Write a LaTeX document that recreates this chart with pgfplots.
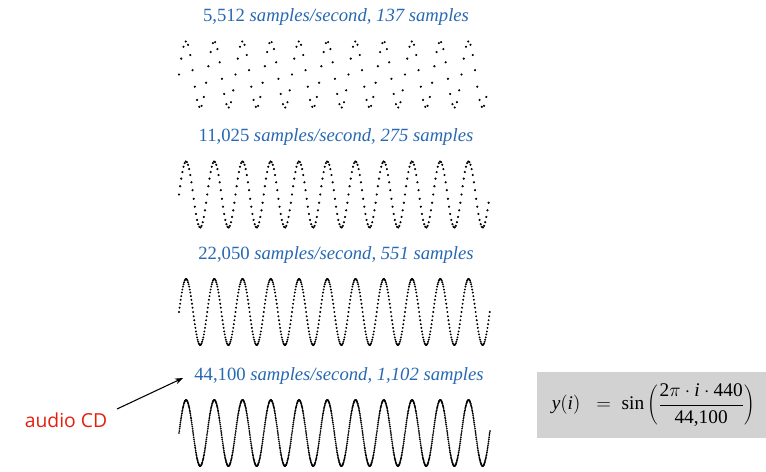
\documentclass[border=0pt]{standalone}
\usepackage{pgfplots}
\pgfplotsset{compat=1.18}
\usepackage{pgfplotstable}
\usetikzlibrary{arrows.meta}
\usepackage{fontspec}
\setmainfont{Liberation Serif}
\newfontfamily\cdfont{Open Sans}
\definecolor{titleblue}{RGB}{38,104,178}
\definecolor{cdred}{RGB}{226,32,16}
\definecolor{boxgray}{RGB}{210,210,210}
\pgfplotstableread[row sep=\\]{
y\\
0\\0.06\\0.13\\0.19\\0.25\\0.31\\0.37\\0.43\\0.48\\0.54\\
0.59\\0.64\\0.68\\0.73\\0.77\\0.81\\0.84\\0.88\\0.90\\0.93\\
0.95\\0.97\\0.98\\0.99\\1\\1\\1\\0.99\\0.98\\0.97\\
0.95\\0.93\\0.90\\0.88\\0.84\\0.81\\0.77\\0.73\\0.68\\0.64\\
0.59\\0.54\\0.48\\0.43\\0.37\\0.31\\0.25\\0.19\\0.13\\0.06\\
0\\-0.06\\-0.13\\-0.19\\-0.25\\-0.31\\-0.37\\-0.43\\-0.48\\-0.54\\
-0.59\\-0.64\\-0.68\\-0.73\\-0.77\\-0.81\\-0.84\\-0.88\\-0.90\\-0.93\\
-0.95\\-0.97\\-0.98\\-0.99\\-1\\-1\\-1\\-0.99\\-0.98\\-0.97\\
-0.95\\-0.93\\-0.90\\-0.88\\-0.84\\-0.81\\-0.77\\-0.73\\-0.68\\-0.64\\
-0.59\\-0.54\\-0.48\\-0.43\\-0.37\\-0.31\\-0.25\\-0.19\\-0.13\\-0.06\\
0\\0.06\\0.13\\0.19\\0.25\\0.31\\0.37\\0.43\\0.48\\0.54\\
0.59\\0.64\\0.68\\0.73\\0.77\\0.81\\0.84\\0.88\\0.90\\0.93\\
0.95\\0.97\\0.98\\0.99\\1\\1\\1\\0.99\\0.98\\0.97\\
0.95\\0.93\\0.90\\0.88\\0.84\\0.81\\0.77\\0.73\\0.68\\0.64\\
0.59\\0.54\\0.48\\0.43\\0.37\\0.31\\0.25\\0.19\\0.13\\0.06\\
0\\-0.06\\-0.13\\-0.19\\-0.25\\-0.31\\-0.37\\-0.43\\-0.48\\-0.54\\
-0.59\\-0.64\\-0.68\\-0.73\\-0.77\\-0.81\\-0.84\\-0.88\\-0.90\\-0.93\\
-0.95\\-0.97\\-0.98\\-0.99\\-1\\-1\\-1\\-0.99\\-0.98\\-0.97\\
-0.95\\-0.93\\-0.90\\-0.88\\-0.84\\-0.81\\-0.77\\-0.73\\-0.68\\-0.64\\
-0.59\\-0.54\\-0.48\\-0.43\\-0.37\\-0.31\\-0.25\\-0.19\\-0.13\\-0.06\\
0\\0.06\\0.13\\0.19\\0.25\\0.31\\0.37\\0.43\\0.48\\0.54\\
0.59\\0.64\\0.68\\0.73\\0.77\\0.81\\0.84\\0.88\\0.90\\0.93\\
0.95\\0.97\\0.98\\0.99\\1\\1\\1\\0.99\\0.98\\0.97\\
0.95\\0.93\\0.90\\0.88\\0.84\\0.81\\0.77\\0.73\\0.68\\0.64\\
0.59\\0.54\\0.48\\0.43\\0.37\\0.31\\0.25\\0.19\\0.13\\0.06\\
0\\-0.06\\-0.13\\-0.19\\-0.25\\-0.31\\-0.37\\-0.43\\-0.48\\-0.54\\
-0.59\\-0.64\\-0.68\\-0.73\\-0.77\\-0.81\\-0.84\\-0.88\\-0.90\\-0.93\\
-0.95\\-0.97\\-0.98\\-0.99\\-1\\-1\\-1\\-0.99\\-0.98\\-0.97\\
-0.95\\-0.93\\-0.90\\-0.88\\-0.84\\-0.81\\-0.77\\-0.73\\-0.68\\-0.64\\
-0.59\\-0.54\\-0.48\\-0.43\\-0.37\\-0.31\\-0.25\\-0.19\\-0.13\\-0.06\\
0\\0.06\\0.13\\0.19\\0.25\\0.31\\0.37\\0.43\\0.48\\0.54\\
0.59\\0.64\\0.68\\0.73\\0.77\\0.81\\0.84\\0.88\\0.90\\0.93\\
0.95\\0.97\\0.98\\0.99\\1\\1\\1\\0.99\\0.98\\0.97\\
0.95\\0.93\\0.90\\0.88\\0.84\\0.81\\0.77\\0.73\\0.68\\0.64\\
0.59\\0.54\\0.48\\0.43\\0.37\\0.31\\0.25\\0.19\\0.13\\0.06\\
0\\-0.06\\-0.13\\-0.19\\-0.25\\-0.31\\-0.37\\-0.43\\-0.48\\-0.54\\
-0.59\\-0.64\\-0.68\\-0.73\\-0.77\\-0.81\\-0.84\\-0.88\\-0.90\\-0.93\\
-0.95\\-0.97\\-0.98\\-0.99\\-1\\-1\\-1\\-0.99\\-0.98\\-0.97\\
-0.95\\-0.93\\-0.90\\-0.88\\-0.84\\-0.81\\-0.77\\-0.73\\-0.68\\-0.64\\
-0.59\\-0.54\\-0.48\\-0.43\\-0.37\\-0.31\\-0.25\\-0.19\\-0.13\\-0.06\\
0\\0.06\\0.13\\0.19\\0.25\\0.31\\0.37\\0.43\\0.48\\0.54\\
0.59\\0.64\\0.68\\0.73\\0.77\\0.81\\0.84\\0.88\\0.90\\0.93\\
0.95\\0.97\\0.98\\0.99\\1\\1\\1\\0.99\\0.98\\0.97\\
0.95\\0.93\\0.90\\0.88\\0.84\\0.81\\0.77\\0.73\\0.68\\0.64\\
0.59\\0.54\\0.48\\0.43\\0.37\\0.31\\0.25\\0.19\\0.13\\0.06\\
0\\-0.06\\-0.13\\-0.19\\-0.25\\-0.31\\-0.37\\-0.43\\-0.48\\-0.54\\
-0.59\\-0.64\\-0.68\\-0.73\\-0.77\\-0.81\\-0.84\\-0.88\\-0.90\\-0.93\\
-0.95\\-0.97\\-0.98\\-0.99\\-1\\-1\\-1\\-0.99\\-0.98\\-0.97\\
-0.95\\-0.93\\-0.90\\-0.88\\-0.84\\-0.81\\-0.77\\-0.73\\-0.68\\-0.64\\
-0.59\\-0.54\\-0.48\\-0.43\\-0.37\\-0.31\\-0.25\\-0.19\\-0.13\\-0.06\\
0\\0.06\\0.13\\0.19\\0.25\\0.31\\0.37\\0.43\\0.48\\0.54\\
0.59\\0.64\\0.68\\0.73\\0.77\\0.81\\0.84\\0.88\\0.90\\0.93\\
0.95\\0.97\\0.98\\0.99\\1\\1\\1\\0.99\\0.98\\0.97\\
0.95\\0.93\\0.90\\0.88\\0.84\\0.81\\0.77\\0.73\\0.68\\0.64\\
0.59\\0.54\\0.48\\0.43\\0.37\\0.31\\0.25\\0.19\\0.13\\0.06\\
0\\-0.06\\-0.13\\-0.19\\-0.25\\-0.31\\-0.37\\-0.43\\-0.48\\-0.54\\
-0.59\\-0.64\\-0.68\\-0.73\\-0.77\\-0.81\\-0.84\\-0.88\\-0.90\\-0.93\\
-0.95\\-0.97\\-0.98\\-0.99\\-1\\-1\\-1\\-0.99\\-0.98\\-0.97\\
-0.95\\-0.93\\-0.90\\-0.88\\-0.84\\-0.81\\-0.77\\-0.73\\-0.68\\-0.64\\
-0.59\\-0.54\\-0.48\\-0.43\\-0.37\\-0.31\\-0.25\\-0.19\\-0.13\\-0.06\\
0\\0.06\\0.13\\0.19\\0.25\\0.31\\0.37\\0.43\\0.48\\0.54\\
0.59\\0.64\\0.68\\0.73\\0.77\\0.81\\0.84\\0.88\\0.90\\0.93\\
0.95\\0.97\\0.98\\0.99\\1\\1\\1\\0.99\\0.98\\0.97\\
0.95\\0.93\\0.90\\0.88\\0.84\\0.81\\0.77\\0.73\\0.68\\0.64\\
0.59\\0.54\\0.48\\0.43\\0.37\\0.31\\0.25\\0.19\\0.13\\0.06\\
0\\-0.06\\-0.13\\-0.19\\-0.25\\-0.31\\-0.37\\-0.43\\-0.48\\-0.54\\
-0.59\\-0.64\\-0.68\\-0.73\\-0.77\\-0.81\\-0.84\\-0.88\\-0.90\\-0.93\\
-0.95\\-0.97\\-0.98\\-0.99\\-1\\-1\\-1\\-0.99\\-0.98\\-0.97\\
-0.95\\-0.93\\-0.90\\-0.88\\-0.84\\-0.81\\-0.77\\-0.73\\-0.68\\-0.64\\
-0.59\\-0.54\\-0.48\\-0.43\\-0.37\\-0.31\\-0.25\\-0.19\\-0.13\\-0.06\\
0\\0.06\\0.13\\0.19\\0.25\\0.31\\0.37\\0.43\\0.48\\0.54\\
0.59\\0.64\\0.68\\0.73\\0.77\\0.81\\0.84\\0.88\\0.90\\0.93\\
0.95\\0.97\\0.98\\0.99\\1\\1\\1\\0.99\\0.98\\0.97\\
0.95\\0.93\\0.90\\0.88\\0.84\\0.81\\0.77\\0.73\\0.68\\0.64\\
0.59\\0.54\\0.48\\0.43\\0.37\\0.31\\0.25\\0.19\\0.13\\0.06\\
0\\-0.06\\-0.13\\-0.19\\-0.25\\-0.31\\-0.37\\-0.43\\-0.48\\-0.54\\
-0.59\\-0.64\\-0.68\\-0.73\\-0.77\\-0.81\\-0.84\\-0.88\\-0.90\\-0.93\\
-0.95\\-0.97\\-0.98\\-0.99\\-1\\-1\\-1\\-0.99\\-0.98\\-0.97\\
-0.95\\-0.93\\-0.90\\-0.88\\-0.84\\-0.81\\-0.77\\-0.73\\-0.68\\-0.64\\
-0.59\\-0.54\\-0.48\\-0.43\\-0.37\\-0.31\\-0.25\\-0.19\\-0.13\\-0.06\\
0\\0.06\\0.13\\0.19\\0.25\\0.31\\0.37\\0.43\\0.48\\0.54\\
0.59\\0.64\\0.68\\0.73\\0.77\\0.81\\0.84\\0.88\\0.90\\0.93\\
0.95\\0.97\\0.98\\0.99\\1\\1\\1\\0.99\\0.98\\0.97\\
0.95\\0.93\\0.90\\0.88\\0.84\\0.81\\0.77\\0.73\\0.68\\0.64\\
0.59\\0.54\\0.48\\0.43\\0.37\\0.31\\0.25\\0.19\\0.13\\0.06\\
0\\-0.06\\-0.13\\-0.19\\-0.25\\-0.31\\-0.37\\-0.43\\-0.48\\-0.54\\
-0.59\\-0.64\\-0.68\\-0.73\\-0.77\\-0.81\\-0.84\\-0.88\\-0.90\\-0.93\\
-0.95\\-0.97\\-0.98\\-0.99\\-1\\-1\\-1\\-0.99\\-0.98\\-0.97\\
-0.95\\-0.93\\-0.90\\-0.88\\-0.84\\-0.81\\-0.77\\-0.73\\-0.68\\-0.64\\
-0.59\\-0.54\\-0.48\\-0.43\\-0.37\\-0.31\\-0.25\\-0.19\\-0.13\\-0.06\\
0\\0.06\\0.13\\0.19\\0.25\\0.31\\0.37\\0.43\\0.48\\0.54\\
0.59\\0.64\\0.68\\0.73\\0.77\\0.81\\0.84\\0.88\\0.90\\0.93\\
0.95\\0.97\\0.98\\0.99\\1\\1\\1\\0.99\\0.98\\0.97\\
0.95\\0.93\\0.90\\0.88\\0.84\\0.81\\0.77\\0.73\\0.68\\0.64\\
0.59\\0.54\\0.48\\0.43\\0.37\\0.31\\0.25\\0.19\\0.13\\0.06\\
0\\-0.06\\-0.13\\-0.19\\-0.25\\-0.31\\-0.37\\-0.43\\-0.48\\-0.54\\
-0.59\\-0.64\\-0.68\\-0.73\\-0.77\\-0.81\\-0.84\\-0.88\\-0.90\\-0.93\\
-0.95\\-0.97\\-0.98\\-0.99\\-1\\-1\\-1\\-0.99\\-0.98\\-0.97\\
-0.95\\-0.93\\-0.90\\-0.88\\-0.84\\-0.81\\-0.77\\-0.73\\-0.68\\-0.64\\
-0.59\\-0.54\\-0.48\\-0.43\\-0.37\\-0.31\\-0.25\\-0.19\\-0.13\\-0.06\\
0\\0.06\\0.13\\0.19\\0.25\\0.31\\0.37\\0.43\\0.48\\0.54\\
0.59\\0.64\\0.68\\0.73\\0.77\\0.81\\0.84\\0.88\\0.90\\0.93\\
0.95\\0.97\\0.98\\0.99\\1\\1\\1\\0.99\\0.98\\0.97\\
0.95\\0.93\\0.90\\0.88\\0.84\\0.81\\0.77\\0.73\\0.68\\0.64\\
0.59\\0.54\\0.48\\0.43\\0.37\\0.31\\0.25\\0.19\\0.13\\0.06\\
0\\-0.06\\-0.13\\-0.19\\-0.25\\-0.31\\-0.37\\-0.43\\-0.48\\-0.54\\
-0.59\\-0.64\\-0.68\\-0.73\\-0.77\\-0.81\\-0.84\\-0.88\\-0.90\\-0.93\\
-0.95\\-0.97\\-0.98\\-0.99\\-1\\-1\\-1\\-0.99\\-0.98\\-0.97\\
-0.95\\-0.93\\-0.90\\-0.88\\-0.84\\-0.81\\-0.77\\-0.73\\-0.68\\-0.64\\
-0.59\\-0.54\\-0.48\\-0.43\\-0.37\\-0.31\\-0.25\\-0.19\\-0.13\\-0.06\\
0\\0.06\\
}\sinedata
\begin{document}
\begin{tikzpicture}
\path[use as bounding box] (0,0) rectangle (574.5pt,353.25pt);
\pgfplotsset{wave/.style={scale only axis, width=233.25pt, height=49.5pt,
  xmin=0, xmax=1101, ymin=-1, ymax=1, axis lines=none, ticks=none,
  clip=false, anchor=south west},
  dots/.style={only marks, mark=*, mark size=0.6pt,
  mark options={draw=none, fill=black!75}, filter discard warning=false},
  fine/.style={only marks, mark=*, mark size=0.45pt,
  mark options={draw=none, fill=black!62}, filter discard warning=false}}
\begin{axis}[wave, at={(134.25pt,272.625pt)}]
\addplot[dots, each nth point=8, skip coords between index={1089}{1102}] table[x expr=\coordindex, y=y]{\sinedata};
\end{axis}
\begin{axis}[wave, at={(134.25pt,182.625pt)}]
\addplot[dots, each nth point=4, skip coords between index={1097}{1102}] table[x expr=\coordindex, y=y]{\sinedata};
\end{axis}
\begin{axis}[wave, at={(134.25pt,94.5pt)}]
\addplot[fine, mark size=0.5pt, mark options={fill=black!70}, each nth point=2] table[x expr=\coordindex, y=y]{\sinedata};
\end{axis}
\begin{axis}[wave, at={(134.25pt,3.75pt)}]
\addplot[fine] table[x expr=\coordindex, y=y]{\sinedata};
\end{axis}
\tikzset{ttl/.style={titleblue, font=\fontsize{14}{17}\selectfont}}
\node[ttl] at (252pt,340.5pt) {5,512 \textit{samples/second, 137 samples}};
\node[ttl] at (252pt,250.5pt) {11,025 \textit{samples/second, 275 samples}};
\node[ttl] at (252pt,162pt) {22,050 \textit{samples/second, 551 samples}};
\node[ttl] at (254.25pt,71.25pt) {44,100 \textit{samples/second, 1,102 samples}};
\fill[boxgray] (402.75pt,24.75pt) rectangle (574.5pt,74.25pt);
\node[font=\fontsize{14.5}{17}\selectfont] at (490pt,49.5pt) {$\displaystyle \textit{y}(\textit{i}) \;\;=\; \mathrm{sin}\left(\frac{\mbox{2}\pi\cdot\textit{i}\cdot\mbox{440}}{\mbox{44,100}}\right)$};
\node[cdred, font=\cdfont\fontsize{14.5}{17}\selectfont] at (49.5pt,38.25pt) {audio CD};
\draw[-{Stealth[length=6pt,width=4.5pt]}, line width=0.8pt] (87.75pt,46.5pt) -- (137.25pt,69.75pt);
\end{tikzpicture}
\end{document}
